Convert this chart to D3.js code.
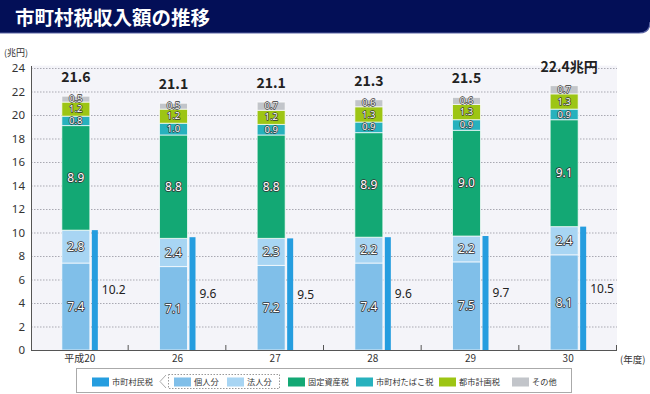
<!DOCTYPE html>
<html>
<head>
<meta charset="utf-8">
<script src="https://cdn.jsdelivr.net/npm/d3@7"></script>
<style>
  body { margin: 0; background: #fff; }
  svg { display: block; font-family: "Noto Sans CJK JP", "Noto Sans", sans-serif; }
</style>
</head>
<body>
<svg id="chart" width="650" height="394"></svg>
<script>
// 年度
const categories = ['平成20', '26', '27', '28', '29', '30'];
// 内訳（兆円）
const kojin = [7.4, 7.1, 7.2, 7.4, 7.5, 8.1];
const hojin = [2.8, 2.4, 2.3, 2.2, 2.2, 2.4];
const kotei = [8.9, 8.8, 8.8, 8.9, 9.0, 9.1];
const tabako = [0.8, 1.0, 0.9, 0.9, 0.9, 0.9];
const toshi = [1.2, 1.2, 1.2, 1.3, 1.3, 1.3];
const sonota = [0.5, 0.5, 0.7, 0.6, 0.6, 0.7];
// 市町村民税
const shichoson = [10.2, 9.6, 9.5, 9.6, 9.7, 10.5];
// 合計
const totals = ['21.6', '21.1', '21.1', '21.3', '21.5', '22.4兆円'];
const yTicks = [0, 2, 4, 6, 8, 10, 12, 14, 16, 18, 20, 22, 24];

const seriesKeys = ['kojin', 'hojin', 'kotei', 'tabako', 'toshi', 'sonota'];
const seriesData = { kojin, hojin, kotei, tabako, toshi, sonota };
const colors = {
  shichoson: '#259ddf',
  kojin: '#80bfe9',
  hojin: '#a8d5f3',
  kotei: '#13a874',
  tabako: '#27b1bd',
  toshi: '#9dc514',
  sonota: '#c2c5ca'
};

const svg = d3.select('#chart');

// タイトル帯
svg.append('path')
  .attr('d', 'M0,0 H650 V22 Q650,33 639,33 H0 Z')
  .attr('fill', '#030f57');
svg.append('path')
  .attr('d', 'M0,33 H639 Q650,33 650,22')
  .attr('fill', 'none')
  .attr('stroke', '#5b64a3')
  .attr('stroke-width', 1.2);
svg.append('text')
  .attr('x', 15)
  .attr('y', 25)
  .attr('fill', '#fff')
  .attr('font-size', 19.5)
  .attr('font-weight', 'bold')
  .text('市町村税収入額の推移');

const plotL = 31, plotR = 617, plotT = 68, plotB = 350;

const x = d3.scaleBand().domain(categories).range([plotL, plotR]).padding(0);
const y = d3.scaleLinear().domain([0, 24]).range([plotB, plotT]);

// 背景
svg.append('rect')
  .attr('x', plotL).attr('y', y(24.2))
  .attr('width', plotR - plotL).attr('height', plotB - y(24.2))
  .attr('fill', '#f4f4f9');

// グリッド
svg.append('g')
  .selectAll('line')
  .data(yTicks.filter(d => d > 0))
  .join('line')
  .attr('x1', plotL).attr('x2', plotR)
  .attr('y1', d => y(d) + 0.5).attr('y2', d => y(d) + 0.5)
  .attr('stroke', '#a9a9b2')
  .attr('stroke-width', 1)
  .attr('stroke-dasharray', '1.5,1.5');

// Y軸
const yAxis = svg.append('g')
  .attr('transform', `translate(${plotL},0)`)
  .call(d3.axisLeft(y).tickValues(yTicks).tickSize(0).tickPadding(6));
yAxis.select('.domain').remove();
yAxis.selectAll('text')
  .attr('font-size', 11.5)
  .attr('fill', '#333')
  .attr('font-family', '"Noto Sans", sans-serif');

svg.append('text')
  .attr('x', 4).attr('y', 56)
  .attr('font-size', 9)
  .attr('fill', '#333')
  .text('(兆円)');

// 積み上げ
const rows = categories.map((c, i) => {
  const r = { cat: c };
  seriesKeys.forEach(k => { r[k] = seriesData[k][i]; });
  return r;
});
const stacked = d3.stack().keys(seriesKeys)(rows);

const bw = x.bandwidth();
const stackX = c => x(c) + bw / 2 - 18;
const stackW = 28;
const thinX = c => x(c) + bw / 2 + 12;
const thinW = 6;

const barG = svg.append('g');
stacked.forEach(layer => {
  barG.selectAll(null)
    .data(layer)
    .join('rect')
    .attr('x', d => stackX(d.data.cat))
    .attr('y', d => y(d[1]))
    .attr('width', stackW)
    .attr('height', d => y(d[0]) - y(d[1]))
    .attr('fill', colors[layer.key])
    .attr('stroke', '#fff')
    .attr('stroke-opacity', 0.7)
    .attr('stroke-width', 1);
});

// 市町村民税（細い棒）
barG.selectAll('rect.thin')
  .data(categories)
  .join('rect')
  .attr('class', 'thin')
  .attr('x', c => thinX(c))
  .attr('y', (c, i) => y(shichoson[i]))
  .attr('width', thinW)
  .attr('height', (c, i) => plotB - y(shichoson[i]))
  .attr('fill', colors.shichoson);

// 内訳ラベル
const labelG = svg.append('g');
stacked.forEach(layer => {
  const big = layer.key === 'kojin' || layer.key === 'hojin' || layer.key === 'kotei';
  labelG.selectAll(null)
    .data(layer)
    .join('text')
    .attr('x', d => stackX(d.data.cat) + stackW / 2)
    .attr('y', d => (y(d[0]) + y(d[1])) / 2)
    .attr('dy', big ? '0.36em' : '0.33em')
    .attr('text-anchor', 'middle')
    .attr('font-size', big ? 12 : 9.5)
    .attr('font-family', '"Noto Sans", sans-serif')
    .attr('fill', '#fff')
    .attr('stroke', '#333')
    .attr('stroke-width', big ? 1.6 : 1.3)
    .attr('paint-order', 'stroke')
    .attr('stroke-linejoin', 'round')
    .text(d => (d[1] - d[0]).toFixed(1));
});

// 市町村民税ラベル
labelG.selectAll('text.thinlab')
  .data(categories)
  .join('text')
  .attr('class', 'thinlab')
  .attr('x', c => thinX(c) + thinW + 4)
  .attr('y', (c, i) => y(shichoson[i] / 2))
  .attr('dy', '0.36em')
  .attr('font-size', 12)
  .attr('font-family', '"Noto Sans", sans-serif')
  .attr('fill', '#222')
  .text((c, i) => shichoson[i].toFixed(1));

// 合計ラベル
labelG.selectAll('text.total')
  .data(categories)
  .join('text')
  .attr('class', 'total')
  .attr('x', (c, i) => stackX(c) + stackW / 2 + (i === categories.length - 1 ? 5 : 0))
  .attr('y', (c, i) => y(stacked[stacked.length - 1][i][1]) - 14)
  .attr('text-anchor', 'middle')
  .attr('font-size', 14)
  .attr('font-weight', 'bold')
  .attr('fill', '#222')
  .text((c, i) => totals[i]);

// 軸線
svg.append('line')
  .attr('x1', plotL).attr('x2', plotR)
  .attr('y1', plotB + 0.5).attr('y2', plotB + 0.5)
  .attr('stroke', '#555');
svg.append('line')
  .attr('x1', plotL + 0.5).attr('x2', plotL + 0.5)
  .attr('y1', plotT - 2).attr('y2', plotB + 1)
  .attr('stroke', '#555');
svg.append('g')
  .selectAll('line')
  .data(categories.slice(1).concat(['end']))
  .join('line')
  .attr('x1', c => (c === 'end' ? plotR : x(c)) - 0.5)
  .attr('x2', c => (c === 'end' ? plotR : x(c)) - 0.5)
  .attr('y1', plotB - 5).attr('y2', plotB)
  .attr('stroke', '#555');

// X軸
const xAxis = svg.append('g')
  .attr('transform', `translate(0,${plotB})`)
  .call(d3.axisBottom(x).tickSize(0).tickPadding(5));
xAxis.select('.domain').remove();
xAxis.selectAll('text')
  .attr('font-size', 10)
  .attr('fill', '#333')
  .attr('font-family', '"Noto Sans CJK JP", sans-serif');

svg.append('text')
  .attr('x', 620).attr('y', 363)
  .attr('font-size', 9.5)
  .attr('fill', '#333')
  .text('(年度)');

// 凡例
const legend = svg.append('g');
legend.append('rect')
  .attr('x', 76.5).attr('y', 368.5)
  .attr('width', 495).attr('height', 24)
  .attr('fill', '#fff')
  .attr('stroke', '#aaa');
legend.append('rect')
  .attr('x', 168.5).attr('y', 374.5)
  .attr('width', 111).attr('height', 14)
  .attr('fill', 'none')
  .attr('stroke', '#999')
  .attr('stroke-dasharray', '1.5,1.5');
legend.append('path')
  .attr('d', 'M166,375 L160,381.5 L166,388')
  .attr('fill', 'none')
  .attr('stroke', '#aaa');

const legendItems = [
  { key: 'shichoson', label: '市町村民税', x: 92 },
  { key: 'kojin', label: '個人分', x: 174 },
  { key: 'hojin', label: '法人分', x: 227 },
  { key: 'kotei', label: '固定資産税', x: 288 },
  { key: 'tabako', label: '市町村たばこ税', x: 356 },
  { key: 'toshi', label: '都市計画税', x: 439 },
  { key: 'sonota', label: 'その他', x: 512 }
];
const li = legend.selectAll('g.item')
  .data(legendItems)
  .join('g')
  .attr('class', 'item')
  .attr('transform', d => `translate(${d.x},0)`);
li.append('rect')
  .attr('x', 0).attr('y', 377.5)
  .attr('width', 17).attr('height', 9)
  .attr('fill', d => colors[d.key]);
li.append('text')
  .attr('x', 20).attr('y', 385)
  .attr('font-size', 8.2)
  .attr('fill', '#333')
  .text(d => d.label);
</script>
</body>
</html>
